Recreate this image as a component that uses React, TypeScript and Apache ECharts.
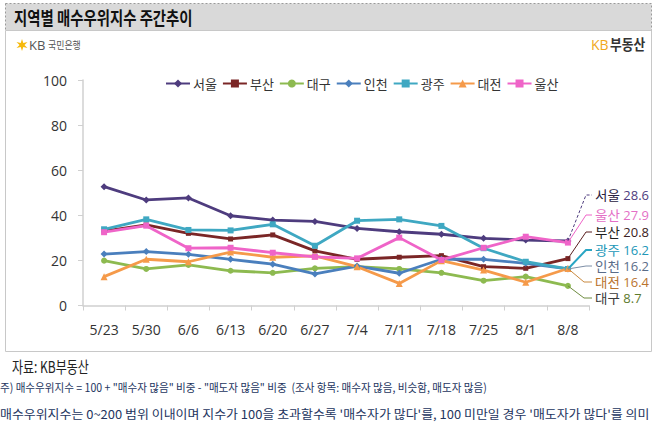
import React, { useEffect, useRef } from "react";
import * as echarts from "echarts";

const categories = ["5/23", "5/30", "6/6", "6/13", "6/20", "6/27", "7/4", "7/11", "7/18", "7/25", "8/1", "8/8"];
const seoul = [52.7, 46.8, 47.7, 39.8, 37.9, 37.3, 34.2, 32.7, 31.6, 29.8, 29.0, 28.6];
const busan = [33.0, 35.7, 32.0, 29.5, 31.3, 24.2, 20.5, 21.4, 22.1, 17.2, 16.5, 20.8];
const daegu = [19.9, 16.2, 18.0, 15.4, 14.5, 16.5, 17.2, 16.2, 14.5, 11.0, 12.8, 8.7];
const incheon = [22.8, 23.9, 22.7, 20.5, 18.3, 14.0, 17.5, 14.3, 20.5, 20.5, 18.7, 16.2];
const gwangju = [33.8, 38.2, 33.5, 33.3, 36.0, 26.5, 37.6, 38.2, 35.3, 25.4, 19.4, 16.2];
const daejeon = [12.8, 20.5, 19.4, 23.7, 21.4, 22.0, 17.2, 9.8, 19.9, 15.7, 10.3, 16.4];
const ulsan = [32.5, 35.4, 25.4, 25.6, 23.4, 21.6, 20.9, 30.1, 20.2, 25.6, 30.5, 27.9];
const yTicks = [0, 20, 40, 60, 80, 100];

const seriesDefs = [
  { name: "서울", data: seoul, color: "#4e3c7e", symbol: "diamond", size: 7 },
  { name: "부산", data: busan, color: "#7a2626", symbol: "rect", size: 5 },
  { name: "대구", data: daegu, color: "#8dba50", symbol: "circle", size: 6 },
  { name: "인천", data: incheon, color: "#4a7fbd", symbol: "diamond", size: 7 },
  { name: "광주", data: gwangju, color: "#3fa8c2", symbol: "rect", size: 6 },
  { name: "대전", data: daejeon, color: "#f59a4a", symbol: "triangle", size: 7 },
  { name: "울산", data: ulsan, color: "#ef64c8", symbol: "rect", size: 6 },
];

// label order on right side (top to bottom)
const labelOrder = ["서울", "울산", "부산", "광주", "인천", "대전", "대구"];
const labelY = [195, 215, 232, 250, 266, 282, 298];
const labelNameColors: Record<string, string> = {
  서울: "#2a2140", 울산: "#e46fc6", 부산: "#1f1f1f", 광주: "#2197b8",
  인천: "#5a6c88", 대전: "#b9732e", 대구: "#3a3a3a",
};
const labelValueColors: Record<string, string> = {
  서울: "#4e3c7e", 울산: "#e46fc6", 부산: "#3b2222", 광주: "#2197b8",
  인천: "#5a6c88", 대전: "#b9732e", 대구: "#5d7a2c",
};
const leaderColors: Record<string, string> = {
  서울: "#4e3c7e", 울산: "#ef64c8", 부산: "#5a1f1f", 광주: "#2aa6c4",
  인천: "#7d8ea6", 대전: "#c98a40", 대구: "#6e8c40",
};

const FONT = "'Noto Sans CJK KR', 'Noto Sans', sans-serif";
const NUMFONT = "'Open Sans', 'Noto Sans', sans-serif";

export default function App() {
  const ref = useRef<HTMLDivElement>(null);
  useEffect(() => {
    if (!ref.current) return;
    const chart = echarts.init(ref.current, undefined, { renderer: "svg" });

    const baseGraphic: any[] = [
      { type: "rect", shape: { x: 5.5, y: 3.5, width: 646, height: 27 }, style: { fill: "#d9d9d9", stroke: "#9a9a9a", lineDash: [2, 2], lineWidth: 1 }, z: 0 },
      { type: "rect", shape: { x: 5.5, y: 30.5, width: 646, height: 321 }, style: { fill: "none", stroke: "#c8c8c8", lineWidth: 1 }, z: 0 },
      { type: "text", x: 14, y: 17, scaleX: 0.8, style: { text: "지역별 매수우위지수 주간추이", fontSize: 18, fontWeight: "bold", fontFamily: FONT, fill: "#111", verticalAlign: "middle" }, z: 5 },
      // KB star logo
      { type: "polygon", shape: { points: [[22, 39], [23.3, 43], [27.5, 42], [24.5, 45], [27.5, 48], [23.3, 47], [22, 51], [20.7, 47], [16.5, 48], [19.5, 45], [16.5, 42], [20.7, 43]] }, style: { fill: "#f6b90a" }, z: 5 },
      { type: "text", x: 29, y: 45, style: { text: "KB", fontSize: 13, fontFamily: NUMFONT, fill: "#555", verticalAlign: "middle" }, z: 5 },
      { type: "text", x: 48, y: 45, scaleX: 0.85, style: { text: "국민은행", fontSize: 10.5, fontFamily: FONT, fill: "#555", verticalAlign: "middle" }, z: 5 },
      { type: "text", x: 591, y: 44, style: { text: "KB", fontSize: 14, fontFamily: NUMFONT, fill: "#f0a81c", verticalAlign: "middle" }, z: 5 },
      { type: "text", x: 610, y: 44, scaleX: 0.85, style: { text: "부동산", fontSize: 15, fontWeight: "bold", fontFamily: FONT, fill: "#333", verticalAlign: "middle" }, z: 5 },
      { type: "text", x: 12, y: 366, scaleX: 0.75, style: { text: "자료: KB부동산", fontSize: 16, fontFamily: FONT, fill: "#222", verticalAlign: "middle" }, z: 5 },
      { type: "text", x: 0, y: 387, scaleX: 0.92, style: { text: "주) 매수우위지수 = 100 + \"매수자 많음\" 비중 - \"매도자 많음\" 비중  (조사 항목: 매수자 많음, 비슷함, 매도자 많음)", fontSize: 11.5, fontFamily: FONT, fill: "#23345e", verticalAlign: "middle" }, z: 5 },
      { type: "text", x: 0, y: 414, scaleX: 1.08, style: { text: "매수우위지수는 0~200 범위 이내이며 지수가 100을 초과할수록 '매수자가 많다'를, 100 미만일 경우 '매도자가 많다'를 의미", fontSize: 12, fontFamily: FONT, fill: "#23345e", verticalAlign: "middle" }, z: 5 },
    ];

    labelOrder.forEach((name, i) => {
      const def = seriesDefs.find((s) => s.name === name)!;
      const val = def.data[def.data.length - 1];
      baseGraphic.push({
        type: "text", x: 595, y: labelY[i], scaleX: 1.04,
        style: {
          text: `{n|${name}} {v|${val.toFixed(1)}}`,
          verticalAlign: "middle",
          rich: {
            n: { fontSize: 13, lineHeight: 14, fontFamily: FONT, fill: labelNameColors[name], color: labelNameColors[name] },
            v: { fontSize: 12.5, lineHeight: 14, fontFamily: NUMFONT, fill: labelValueColors[name], color: labelValueColors[name] },
          },
        },
        z: 5,
      });
    });

    const option: any = {
      animation: false,
      grid: { left: 83, right: 69, top: 80, bottom: 122.5, containLabel: false },
      legend: {
        left: 160, top: 72,
        itemWidth: 24, itemHeight: 10, itemGap: 5,
        textStyle: { fontSize: 13, fontFamily: FONT, color: "#333", padding: [0, 0, 0, -2] },
        data: seriesDefs.map((s) => s.name),
      },
      xAxis: {
        type: "category", data: categories, boundaryGap: true,
        axisLine: { lineStyle: { color: "#d0d0d0", width: 1.5 } },
        axisTick: { show: true, length: 5, lineStyle: { color: "#d0d0d0" } },
        axisLabel: { fontSize: 14, fontFamily: NUMFONT, color: "#333", margin: 17 },
      },
      yAxis: {
        type: "value", min: yTicks[0], max: yTicks[yTicks.length - 1], interval: 20,
        axisLine: { show: true, lineStyle: { color: "#d0d0d0", width: 1.5 } },
        axisTick: { show: true, length: 5, lineStyle: { color: "#d0d0d0" } },
        splitLine: { show: false },
        axisLabel: { fontSize: 14, fontFamily: NUMFONT, color: "#333", margin: 16 },
      },
      series: seriesDefs.map((s) => ({
        name: s.name, type: "line", data: s.data,
        symbol: s.symbol, symbolSize: s.size,
        lineStyle: { color: s.color, width: 2.8 },
        itemStyle: { color: s.color },
        color: s.color,
      })),
      graphic: baseGraphic,
    };
    chart.setOption(option);

    // leader lines from last points to labels
    const leaders: any[] = [];
    labelOrder.forEach((name, i) => {
      const def = seriesDefs.find((s) => s.name === name)!;
      const lastIdx = def.data.length - 1;
      const p = chart.convertToPixel({ xAxisIndex: 0, yAxisIndex: 0 }, [lastIdx, def.data[lastIdx]]) as number[];
      const ly = labelY[i];
      const bendX = ly < p[1] ? 586 : 584;
      leaders.push({
        type: "polyline",
        shape: { points: [[p[0], p[1]], [bendX, ly], [592, ly]] },
        style: {
          fill: "none", stroke: leaderColors[name],
          lineWidth: name === "광주" ? 2 : 1,
          lineDash: name === "서울" ? [3, 2] : undefined,
        },
        z: 4,
      });
    });
    chart.setOption({ graphic: baseGraphic.concat(leaders) });

    return () => chart.dispose();
  }, []);
  return <div ref={ref} style={{ width: 658, height: 428, position: "absolute", left: 0, top: 0, background: "#fff" }} />;
}
